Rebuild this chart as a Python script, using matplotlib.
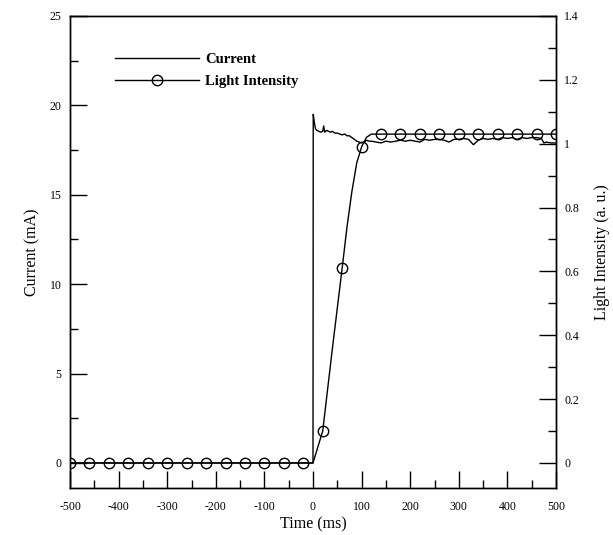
import matplotlib
matplotlib.use("Agg")
import matplotlib.pyplot as plt
import numpy as np

plt.rcParams['font.family'] = ['Liberation Serif', 'DejaVu Serif']

# Current trace (ms, mA)
cur_t = [-500, 0, 0.5, 3, 5, 8, 12, 16, 20, 22, 24, 28, 32, 36, 40, 45, 50, 55, 60, 65,
         70, 75, 80, 85, 90, 95, 100, 105, 110, 115, 120, 130, 140, 150, 160, 170,
         180, 190, 200, 210, 220, 230, 240, 250, 260, 270, 280, 290, 300, 310, 320,
         330, 340, 350, 360, 370, 380, 390, 400, 410, 420, 430, 440, 450, 460, 470,
         475, 480, 490, 500]
cur_v = [0, 0, 19.5, 19.0, 18.7, 18.6, 18.55, 18.5, 18.55, 18.85, 18.5, 18.6, 18.55, 18.5,
         18.55, 18.45, 18.45, 18.4, 18.35, 18.4, 18.3, 18.3, 18.2, 18.1, 18.0, 17.95,
         17.9, 17.95, 18.05, 18.0, 18.0, 17.95, 17.9, 18.0, 17.95, 18.0, 18.05,
         18.0, 18.05, 18.0, 17.95, 18.1, 18.05, 18.1, 18.1, 18.05, 17.95, 18.1, 18.1,
         18.15, 18.1, 17.8, 18.05, 18.15, 18.1, 18.15, 18.1, 18.2, 18.15, 18.2,
         18.1, 18.2, 18.15, 18.2, 18.2, 18.15, 17.9, 17.95, 17.9, 17.9]

# Light intensity (ms, a.u.)
lt_t = [-500, -460, -420, -380, -340, -300, -260, -220, -180, -140, -100, -60, -20,
        0, 20, 40, 60, 70, 80, 90, 100, 110, 120, 140, 180, 220, 260, 300, 340,
        380, 420, 460, 500]
lt_v = [0, 0, 0, 0, 0, 0, 0, 0, 0, 0, 0, 0, 0,
        0, 0.10, 0.36, 0.61, 0.74, 0.85, 0.94, 0.99, 1.02, 1.03, 1.03, 1.03, 1.03,
        1.03, 1.03, 1.03, 1.03, 1.03, 1.03, 1.03]
lt_marked = [i for i, t in enumerate(lt_t) if t not in (0, 40, 70, 80, 90, 110, 120)]

xticks = list(range(-500, 501, 100))
yticks_left = [0, 5, 10, 15, 20, 25]
yticks_right = [0, 0.2, 0.4, 0.6, 0.8, 1, 1.2, 1.4]

fig = plt.figure(figsize=(6.13, 5.35), dpi=100)
ax = fig.add_axes([70/613, 1-488/535, (556-70)/613, (488-16)/535])
ax2 = ax.twinx()

l1, = ax.plot(cur_t, cur_v, color='black', lw=1.0)
l2, = ax2.plot(lt_t, lt_v, color='black', lw=1.0, marker='o', markersize=7.5,
               markerfacecolor='none', markeredgewidth=1.0, markevery=lt_marked)

ax.set_xlim(-500, 500)
ax.set_ylim(-1.4, 25)
ax2.set_ylim(-1.4*0.056, 1.4)

ax.set_xticks(xticks)
ax.set_xticks(list(range(-450, 500, 100)), minor=True)
ax.set_xticklabels([str(x) for x in xticks])
ax.set_yticks(yticks_left)
ax.set_yticks([2.5, 7.5, 12.5, 17.5, 22.5], minor=True)
ax.set_yticklabels([str(v) for v in yticks_left])
ax2.set_yticks(yticks_right)
ax2.set_yticks([0.1, 0.3, 0.5, 0.7, 0.9, 1.1, 1.3], minor=True)
ax2.set_yticklabels(['0', '0.2', '0.4', '0.6', '0.8', '1', '1.2', '1.4'])

for a in (ax, ax2):
    a.tick_params(which='major', direction='in', length=12, width=1.0, labelsize=8.5, pad=6)
    a.tick_params(which='minor', direction='in', length=6, width=1.0)
    for s in a.spines.values():
        s.set_linewidth(1.0)
ax.tick_params(axis='x', which='both', top=False, pad=9)
ax.tick_params(axis='y', which='both', right=False)
ax2.tick_params(axis='y', which='both', left=False)

ax.set_xlabel('Time (ms)', fontsize=11.5, labelpad=3)
ax.set_ylabel('Current (mA)', fontsize=11.5, labelpad=7)
ax2.set_ylabel('Light Intensity (a. u.)', fontsize=11.5, labelpad=11)

leg = ax.legend([l1, l2], ['Current', 'Light Intensity'], loc='upper left',
                bbox_to_anchor=(0.065, 0.95), frameon=False, handlelength=5.8,
                handletextpad=0.4, labelspacing=0.6, prop={'weight': 'bold', 'size': 10.5})

fig.savefig('out.png', dpi=100)
